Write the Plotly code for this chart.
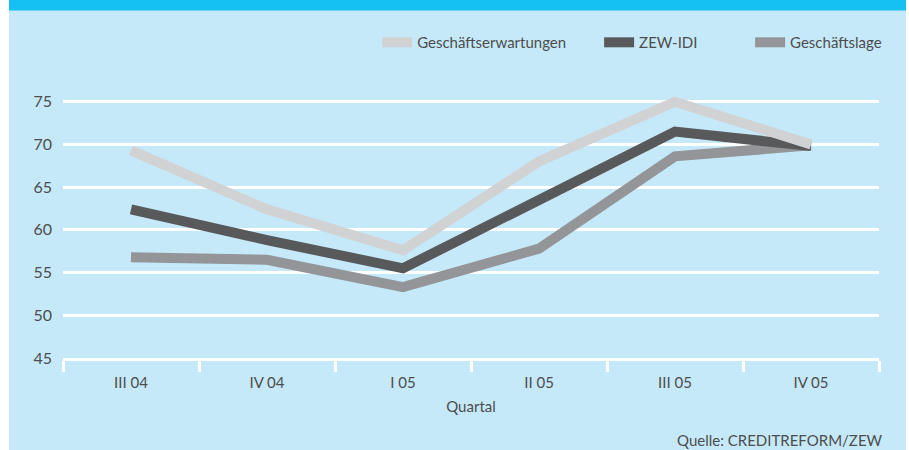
import plotly.graph_objects as go

quartale = ["III 04", "IV 04", "I 05", "II 05", "III 05", "IV 05"]
erwartungen = [69.3, 62.4, 57.6, 68.0, 75.0, 70.0]
zew_idi = [62.4, 58.8, 55.5, 63.6, 71.5, 69.8]
lage = [56.8, 56.5, 53.3, 57.8, 68.6, 69.9]
y_ticks = [45, 50, 55, 60, 65, 70, 75]

BG = "#C5E9F8"
TXT = "#4D4D4F"
FONT = "Lato"

fig = go.Figure()
fig.add_trace(go.Scatter(x=quartale, y=lage, name="Geschäftslage", mode="lines",
                         line=dict(color="#939598", width=10), legend="legend3"))
fig.add_trace(go.Scatter(x=quartale, y=zew_idi, name="ZEW-IDI", mode="lines",
                         line=dict(color="#58595B", width=10), legend="legend2"))
fig.add_trace(go.Scatter(x=quartale, y=erwartungen, name="Geschäftserwartungen", mode="lines",
                         line=dict(color="#D1D2D4", width=10), legend="legend"))

leg_common = dict(orientation="h", y=1.055, yanchor="middle", xanchor="left",
                  bgcolor="rgba(0,0,0,0)", font=dict(family=FONT, size=15, color=TXT))

fig.update_layout(
    width=909, height=450,
    margin=dict(l=63, r=30, t=59, b=92),
    paper_bgcolor=BG,
    plot_bgcolor="rgba(0,0,0,0)",
    font=dict(family=FONT, size=15, color=TXT),
    showlegend=True,
    legend=dict(x=0.385, **leg_common),
    legend2=dict(x=0.657, **leg_common),
    legend3=dict(x=0.842, **leg_common),
    xaxis=dict(
        type="category", range=[-0.5, 5.5],
        showgrid=False, zeroline=False,
        showline=True, linecolor="white", linewidth=2.5,
        ticks="outside", tickson="boundaries", ticklen=11,
        tickcolor="white", tickwidth=2.5,
        ticklabelstandoff=9,
        tickfont=dict(family=FONT, size=15, color=TXT),
        title=dict(text="Quartal", font=dict(family=FONT, size=15, color=TXT), standoff=12),
    ),
    yaxis=dict(
        range=[45, 80], tickvals=y_ticks,
        showgrid=True, gridcolor="white", gridwidth=2.5,
        zeroline=False, showline=False, ticks="",
        ticklabelstandoff=10,
        tickfont=dict(family=FONT, size=16, color=TXT),
    ),
    shapes=[
        dict(type="rect", xref="paper", yref="paper", x0=-0.08, x1=-0.0662,
             y0=-0.35, y1=1.25, fillcolor="white", line=dict(width=0), layer="below"),
        dict(type="rect", xref="paper", yref="paper", x0=1.0331, x1=1.05,
             y0=-0.35, y1=1.25, fillcolor="white", line=dict(width=0), layer="below"),
        dict(type="rect", xref="paper", yref="paper", x0=-0.0662, x1=1.0331,
             y0=1.162, y1=1.25, fillcolor="#15C1F2", line=dict(width=0), layer="below"),
    ],
    annotations=[
        dict(text="Quelle: CREDITREFORM/ZEW", xref="paper", yref="paper",
             x=1.007, y=-0.275, xanchor="right", yanchor="middle", showarrow=False,
             font=dict(family=FONT, size=15, color=TXT)),
    ],
)

fig.write_html("out.html", config={"displayModeBar": False},
               post_script="document.body.style.margin='0';document.body.style.overflow='hidden';")
